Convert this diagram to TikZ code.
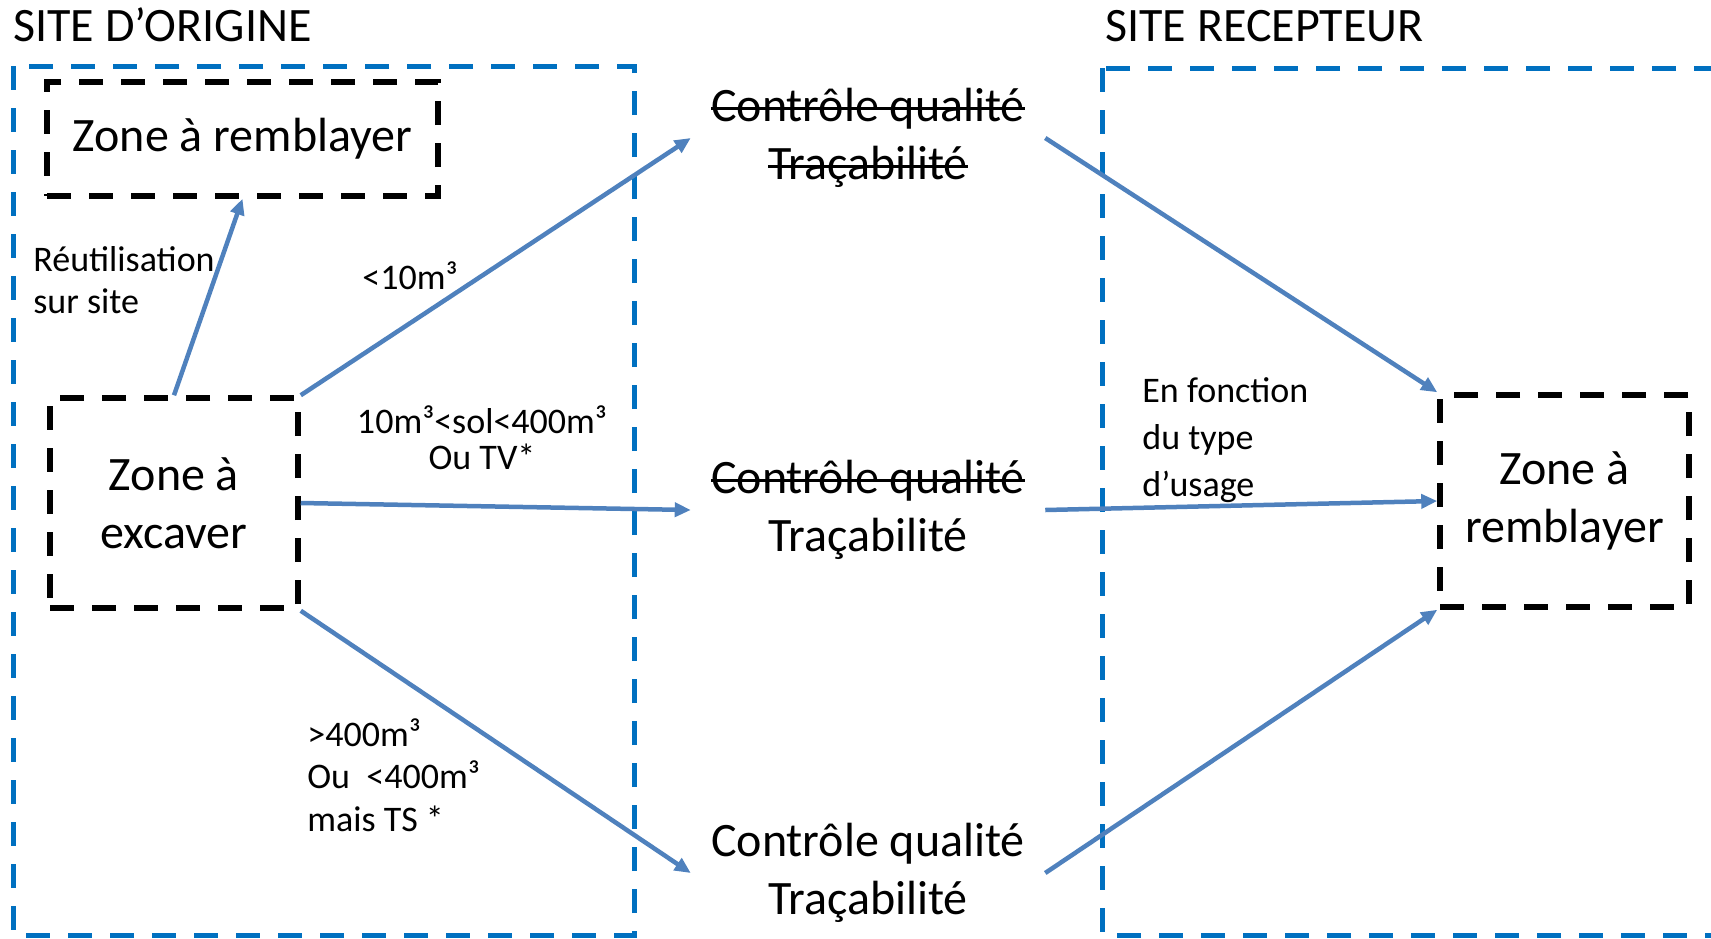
\documentclass[tikz,border=0pt]{standalone}
\usepackage{fontspec}
\setmainfont{Carlito}
\usetikzlibrary{arrows.meta}

\definecolor{siteblue}{HTML}{0070C0}
\definecolor{flowblue}{HTML}{4F81BD}

% struck-through text
\newsavebox{\barrebox}
\newcommand{\barre}[1]{\sbox{\barrebox}{#1}\rlap{\rule[0.25em]{\wd\barrebox}{1.1pt}}\usebox{\barrebox}}

\begin{document}
\begin{tikzpicture}[x=0.5pt,y=-0.5pt,>={Triangle[length=8pt,width=7pt]},
	site/.style={draw=siteblue, line width=2.5pt, dash pattern=on 12pt off 9pt},
	zone/.style={draw=black, line width=2.75pt, dash pattern=on 12pt off 9pt, align=center, font=\fontsize{24}{29}\selectfont, inner sep=0pt},
	ctrl/.style={align=center, font=\fontsize{24}{29}\selectfont, inner sep=10pt},
	cond/.style={align=left, inner sep=0pt},
	title/.style={font=\fontsize{24}{29}\selectfont, inner sep=0pt, anchor=base west},
	flow/.style={->, color=flowblue, line width=2.25pt}]
	
	\useasboundingbox (0,0) rectangle (1711,938);
	
	% the two sites
	\draw [site] (13,66) rectangle (634,935);
	\draw [site] (1102,68) rectangle (1740,935);
	\node (orig) [title] at (13,41) {SITE D’ORIGINE};
	\node (recep) [title] at (1105,41) {SITE RECEPTEUR};
	
	\node (zr1) [zone, minimum width=195.5pt, minimum height=57pt] at (242.5,139) {Zone à remblayer};
	\node (exc) [zone, minimum width=124pt, minimum height=105pt] at (174,503) {Zone à\\excaver};
	\node (zr2) [zone, minimum width=124.5pt, minimum height=106pt] at (1564.5,501) {Zone à\\remblayer};
	
	\node (cq1) [ctrl] at (868,138) {\barre{Contrôle qualité}\\\barre{Traçabilité}};
	\node (cq2) [ctrl] at (868,510) {\barre{Contrôle qualité}\\Traçabilité};
	\node (cq3) [ctrl] at (868,873) {Contrôle qualité\\Traçabilité};
	
	% conditions (base = last line)
	\node (reuse) [cond, font=\fontsize{18}{21}\selectfont, anchor=base west] at (33,313) {Réutilisation\\sur site};
	\node (small) [cond, font=\fontsize{18}{21}\selectfont, anchor=base west] at (362,289) {<10m³};
	\node (medium) [cond, font=\fontsize{18}{18}\selectfont, align=center, anchor=base] at (482,469) {10m³<sol<400m³\\Ou TV*};
	\node (large) [cond, font=\fontsize{18}{21.25}\selectfont, anchor=base west] at (307,831) {>400m³\\Ou\ \ <400m³\\mais TS *};
	\node (usage) [cond, font=\fontsize{18}{23.5}\selectfont, anchor=base west] at (1142,496) {En fonction\\du type\\d’usage};
	
	\path [flow]
	(exc.north) edge (zr1.south)
	(exc.north east) edge (cq1.west)
	(exc.east) edge (cq2.west)
	(exc.south east) edge (cq3.west)
	
	(cq1.east) edge (zr2.north west)
	(cq2.east) edge (zr2.west)
	(cq3.east) edge (zr2.south west);
	
\end{tikzpicture}
\end{document}
